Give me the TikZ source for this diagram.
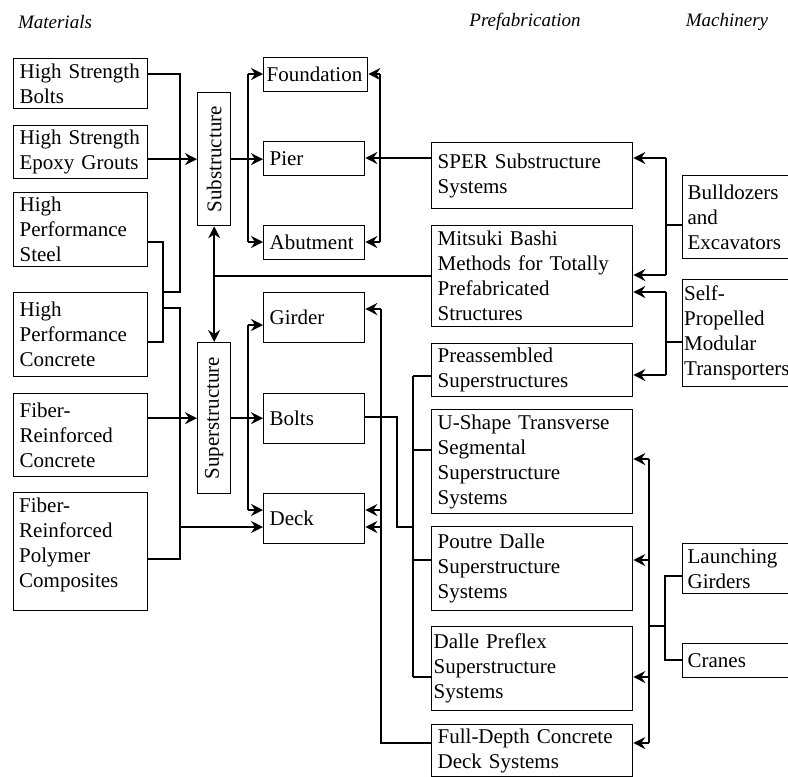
\documentclass[tikz,border=0pt]{standalone}
\usepackage{fontspec}
\usepackage{graphicx}
\setmainfont{Liberation Serif}
\usetikzlibrary{arrows.meta}

% box with given corners (x1,y1)-(x2,y2), horizontal padding, left-aligned text
\newcommand{\mkbox}[7]{%
  \pgfmathsetmacro{\bxtw}{#4-#2-2*#6}%
  \pgfmathsetmacro{\bxh}{#5-#3}%
  \node[box, inner xsep=#6pt, text width=\bxtw pt, minimum height=\bxh pt] (#1) at (#2,#3) {#7};}

\begin{document}
\begin{tikzpicture}[x=1pt,y=-1pt,
  txt/.style={inner sep=0pt, align=left, font=\fontsize{21}{25}\selectfont},
  box/.style={draw, line width=1.3pt, inner ysep=0pt, align=left, anchor=north west,
              font=\fontsize{21}{25}\selectfont},
  vbox/.style={draw, line width=1.3pt, inner sep=0pt, anchor=north west,
              font=\fontsize{21}{25}\selectfont},
  link/.style={line width=1.5pt},
  thin link/.style={line width=1.1pt},
  arr/.style={link, -{Stealth[length=12pt,width=12pt,inset=4pt]}},
  head/.style={inner sep=0pt, font=\fontsize{19}{22}\selectfont\itshape}]

\useasboundingbox (0,0) rectangle (788,777);
\clip (0,0) rectangle (788,777);

% column headings
\node[head] (hmat) at (55,22) {Materials};
\node[head] (hpre) at (525,22) {Prefabrication};
\node[head] (hmac) at (727,22) {Machinery};

% materials
\mkbox{hsb}{13}{58}{147}{108}{6}{High Strength\\Bolts}
\mkbox{hseg}{13}{125}{147}{178}{6}{High Strength\\Epoxy Grouts}
\mkbox{hps}{13}{192}{147}{266}{6}{High\\Performance\\Steel}
\mkbox{hpc}{13}{292}{147}{376}{6}{High\\Performance\\Concrete}
\mkbox{frc}{13}{393}{147}{476}{6}{Fiber-\\Reinforced\\Concrete}
\mkbox{frp}{13}{492}{147}{610}{6}{}
\node[txt, anchor=north west] (frplbl) at (19,497.5) {Fiber-\\Reinforced\\Polymer\\Composites};

% structure groups
\node[vbox, minimum width=33pt, minimum height=133pt] (sub) at (197,92) {\rotatebox{90}{Substructure}};
\node[vbox, minimum width=33pt, minimum height=151pt] (sup) at (197,342) {\rotatebox{90}{Superstructure}};

% structural elements
\mkbox{found}{263}{57}{367}{91}{3}{Foundation}
\mkbox{pier}{263}{141}{364}{175}{6}{Pier}
\mkbox{abut}{263}{225}{364}{259}{6}{Abutment}
\mkbox{girder}{263}{292}{364}{342}{6}{Girder}
\mkbox{bolts}{263}{393}{364}{443}{6}{Bolts}
\mkbox{deck}{263}{493}{364}{543}{6}{Deck}

% prefabrication systems
\mkbox{sper}{431}{142}{632}{208}{6}{SPER Substructure\\Systems}
\mkbox{mitsuki}{431}{225}{632}{326}{6}{Mitsuki Bashi\\Methods for Totally\\Prefabricated\\Structures}
\mkbox{preas}{431}{343}{632}{396}{6}{Preassembled\\Superstructures}
\mkbox{ushape}{431}{409}{632}{513}{6}{U-Shape Transverse\\Segmental\\Superstructure\\Systems}
\mkbox{poutre}{431}{526}{632}{610}{6}{Poutre Dalle\\Superstructure\\Systems}
\mkbox{dalle}{431}{626}{632}{710}{2}{Dalle Preflex\\Superstructure\\Systems}
\mkbox{fulld}{431}{724}{632}{776}{6}{Full-Depth Concrete\\Deck Systems}

% machinery
\mkbox{bull}{682}{175}{788}{258}{5}{Bulldozers\\and\\Excavators}
\mkbox{spmt}{682}{279}{800}{386}{1.5}{Self-\\Propelled\\Modular\\Transporters}
\mkbox{launch}{682}{543}{788}{593}{5}{Launching\\Girders}
\mkbox{cranes}{682}{643}{788}{677}{5}{Cranes}

% materials to substructure, superstructure and deck
\draw[link] (hsb.east |- 0,74) -| (180,292) -- (163,292);
\draw[link] (hps.east |- 0,242) -| (163,342) -- (hpc.east |- 0,342);
\draw[link] (163,308) -| (180,559) -- (frp.east |- 0,559);
\draw[arr] (180,527) -- (deck.west |- 0,527);
\draw[arr] (hseg.east |- sub.west) -- (sub.west);
\draw[arr] (frc.east |- sup.west) -- (sup.west);

% substructure to its elements
\draw[arr] (sub.east) -- (pier.west |- sub.east);
\draw[link] (248,74) -- (248,242);
\draw[arr] (248,74) -- (found.west |- 0,74);
\draw[arr] (248,242) -- (abut.west |- 0,242);

% SPER systems to substructure elements
\draw[arr] (sper.west |- 0,158) -- (pier.east |- 0,158);
\draw[link] (380,74) -- (380,242);
\draw[arr] (380,74) -- (found.east |- 0,74);
\draw[arr] (380,242) -- (abut.east |- 0,242);

% Mitsuki Bashi to both structure groups
\draw[thin link] (mitsuki.west |- 0,276) -- (sub.south |- 0,276);
\draw[arr] (sub.south |- 0,276) -- (sub.south);
\draw[arr] (sub.south |- 0,276) -- (sup.north);

% superstructure to its elements
\draw[arr] (sup.east) -- (bolts.west |- sup.east);
\draw[link] (248,325) -- (248,510);
\draw[arr] (248,325) -- (girder.west |- 0,325);
\draw[arr] (248,510) -- (deck.west |- 0,510);

% full-depth deck systems to girder and deck
\draw[link] (fulld.west |- 0,743) -| (381,309);
\draw[arr] (381,309) -- (girder.east |- 0,309);
\draw[arr] (381,510) -- (deck.east |- 0,510);
\draw[arr] (381,527) -- (deck.east |- 0,527);

% bolts to prefabricated superstructure systems
\draw[thin link] (bolts.east |- 0,417) -| (397,527) -- (413,527);
\draw[thin link] (413,376) -- (413,677);
\draw[thin link] (413,376) -- (preas.west |- 0,376);
\draw[thin link] (413,450) -- (ushape.west |- 0,450);
\draw[thin link] (413,560) -- (poutre.west |- 0,560);
\draw[thin link] (413,677) -- (dalle.west |- 0,677);

% machinery to prefabrication systems
\draw[thin link] (bull.west |- 0,225) -- (666,225);
\draw[link] (666,158) -- (666,275);
\draw[arr] (666,158) -- (sper.east |- 0,158);
\draw[arr] (666,275) -- (mitsuki.east |- 0,275);

\draw[thin link] (spmt.west |- 0,342) -- (666,342);
\draw[link] (666,292) -- (666,375);
\draw[arr] (666,292) -- (mitsuki.east |- 0,292);
\draw[arr] (666,375) -- (preas.east |- 0,375);

\draw[thin link] (launch.west |- 0,576) -| (665,660) -- (cranes.west |- 0,660);
\draw[thin link] (665,626) -- (649,626);
\draw[link] (649,459) -- (649,743);
\draw[arr] (649,459) -- (ushape.east |- 0,459);
\draw[arr] (649,560) -- (poutre.east |- 0,560);
\draw[arr] (649,677) -- (dalle.east |- 0,677);
\draw[arr] (649,743) -- (fulld.east |- 0,743);

\end{tikzpicture}
\end{document}
